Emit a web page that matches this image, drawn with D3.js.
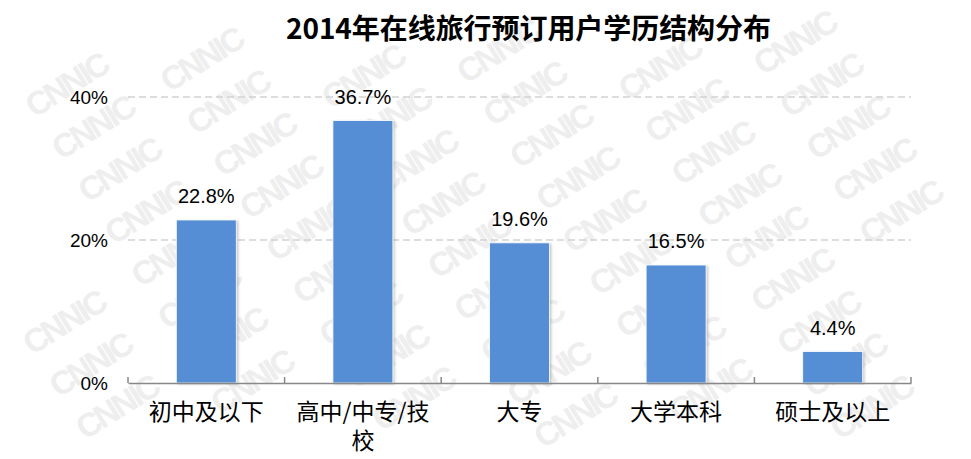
<!DOCTYPE html>
<html>
<head>
<meta charset="utf-8">
<script src="https://cdn.jsdelivr.net/npm/d3@7"></script>
<style>
  html, body { margin: 0; padding: 0; background: #fff; }
  svg { display: block; }
</style>
</head>
<body>
<svg id="chart" width="971" height="459"></svg>
<script>
// Education structure of online travel booking users, 2014
const title = "2014年在线旅行预订用户学历结构分布";
const categories = ["初中及以下", "高中/中专/技校", "大专", "大学本科", "硕士及以上"];
const values = [22.8, 36.7, 19.6, 16.5, 4.4];          // percent
const yTicks = [0, 20, 40];                              // percent
const watermarkText = "CNNIC";

const W = 971, H = 459;
const svg = d3.select("#chart");

// Faint watermark laid on a slanted lattice, only where a copy fits inside the canvas
const wm = svg.append("g").attr("class", "watermark");
const ang = -32 * Math.PI / 180;
const stepA = [128 * Math.cos(ang), 128 * Math.sin(ang)];   // along the text direction
const stepB = [50 * Math.sin(-ang), 50 * Math.cos(ang)];     // across rows
const fs = 33;
const len = 92;                                               // approx. copy length
for (let a = -10; a <= 20; a++) {
  for (let b = -5; b <= 24; b++) {
    const x = 8 + a * stepA[0] + b * stepB[0];
    const y = 76 + a * stepA[1] + b * stepB[1];
    const left = x - 0.4 * fs;
    const right = x + len * Math.cos(ang);
    const top = y + len * Math.sin(ang) - 0.75 * fs * Math.cos(ang);
    if (left < 1 || right > W - 1 || top < 1 || y + 3 > H) continue;
    wm.append("text")
      .attr("transform", `translate(${x.toFixed(1)},${y.toFixed(1)}) rotate(-32)`)
      .attr("font-family", "Liberation Sans, Arial, sans-serif")
      .attr("font-weight", "bold")
      .attr("font-size", fs)
      .attr("letter-spacing", -3)
      .attr("fill", "#eeeeee")
      .text(watermarkText);
  }
}

// Scales
const xCat = d3.scaleBand().domain(categories).range([128, 911]).padding(0);
const xBar = d3.scaleBand().domain(categories).range([128, 911])
  .paddingInner(0.617).paddingOuter(0.3085);
const y = d3.scaleLinear().domain([0, 40]).range([383, 97]);

// Drop shadow for bars
const defs = svg.append("defs");
const f = defs.append("filter").attr("id", "shadow")
  .attr("x", "-20%").attr("y", "-5%").attr("width", "140%").attr("height", "110%");
f.append("feDropShadow").attr("dx", 1.5).attr("dy", 1).attr("stdDeviation", 1)
  .attr("flood-color", "#808080").attr("flood-opacity", 0.45);

// Title
svg.append("text")
  .attr("x", 528.5).attr("y", 39)
  .attr("text-anchor", "middle")
  .attr("font-family", "Noto Sans CJK SC, sans-serif")
  .attr("font-weight", "bold")
  .attr("font-size", 28)
  .attr("textLength", 485)
  .attr("lengthAdjust", "spacing")
  .attr("fill", "#000")
  .text(title);

// Gridlines (dashed) for non-zero ticks
const grid = svg.append("g");
grid.selectAll("line").data(yTicks.filter(d => d > 0)).join("line")
  .attr("x1", 128).attr("x2", 911)
  .attr("y1", d => y(d)).attr("y2", d => y(d))
  .attr("stroke", "#d2d2d2").attr("stroke-width", 1.5)
  .attr("stroke-dasharray", "7,4");

// Y tick labels
const yAxis = d3.axisLeft(y).tickValues(yTicks).tickFormat(d => d + "%").tickSize(0).tickPadding(0);
const gy = svg.append("g").attr("transform", "translate(108,0)").call(yAxis);
gy.select(".domain").remove();
gy.selectAll("text")
  .attr("font-family", "Liberation Sans, Arial, sans-serif")
  .attr("font-size", 19)
  .attr("fill", "#000")
  .attr("dy", "0.36em");

// Bars
svg.append("g").selectAll("rect").data(categories).join("rect")
  .attr("x", d => xBar(d))
  .attr("width", xBar.bandwidth())
  .attr("y", (d, i) => y(values[i]))
  .attr("height", (d, i) => y(0) - y(values[i]))
  .attr("fill", "#558ed5")
  .attr("stroke", "#ffffff").attr("stroke-width", 0.8)
  .attr("filter", "url(#shadow)");

// X axis with ticks on category boundaries, pointing up
const xAxis = d3.axisBottom(xCat).tickSize(0).tickFormat("");
const gx = svg.append("g").attr("transform", `translate(0,${y(0)})`).call(xAxis);
gx.select(".domain").attr("stroke", "#888").attr("stroke-width", 1.5);
gx.selectAll(".tick").remove();
const bounds = categories.map(c => xCat(c)).concat([xCat.range()[1]]);
gx.selectAll("line.bound").data(bounds).join("line").attr("class", "bound")
  .attr("x1", d => d).attr("x2", d => d)
  .attr("y1", 0).attr("y2", -6)
  .attr("stroke", "#888").attr("stroke-width", 1.5);

// Value labels
svg.append("g").selectAll("text").data(categories).join("text")
  .attr("x", d => xBar(d) + xBar.bandwidth() / 2)
  .attr("y", (d, i) => y(values[i]) - 17)
  .attr("text-anchor", "middle")
  .attr("font-family", "Liberation Sans, Arial, sans-serif")
  .attr("font-size", 20)
  .attr("fill", "#000")
  .text((d, i) => values[i].toFixed(1) + "%");

// Category labels, wrapped to the band width (one text element per line)
const catG = svg.append("g")
  .attr("font-family", "Noto Sans CJK SC, sans-serif")
  .attr("font-size", 23)
  .attr("fill", "#000")
  .attr("text-anchor", "middle");

categories.forEach(d => {
  const cx = xCat(d) + xCat.bandwidth() / 2;
  const maxW = xCat.bandwidth() - 12;
  const probe = catG.append("text").attr("visibility", "hidden");
  const lines = [];
  let line = "";
  for (const ch of Array.from(d)) {
    probe.text(line + ch);
    if (probe.node().getComputedTextLength() > maxW && line.length) {
      lines.push(line);
      line = ch;
    } else {
      line += ch;
    }
  }
  lines.push(line);
  probe.remove();
  lines.forEach((l, k) => {
    catG.append("text").attr("x", cx).attr("y", 420 + k * 29).text(l);
  });
});
</script>
</body>
</html>
